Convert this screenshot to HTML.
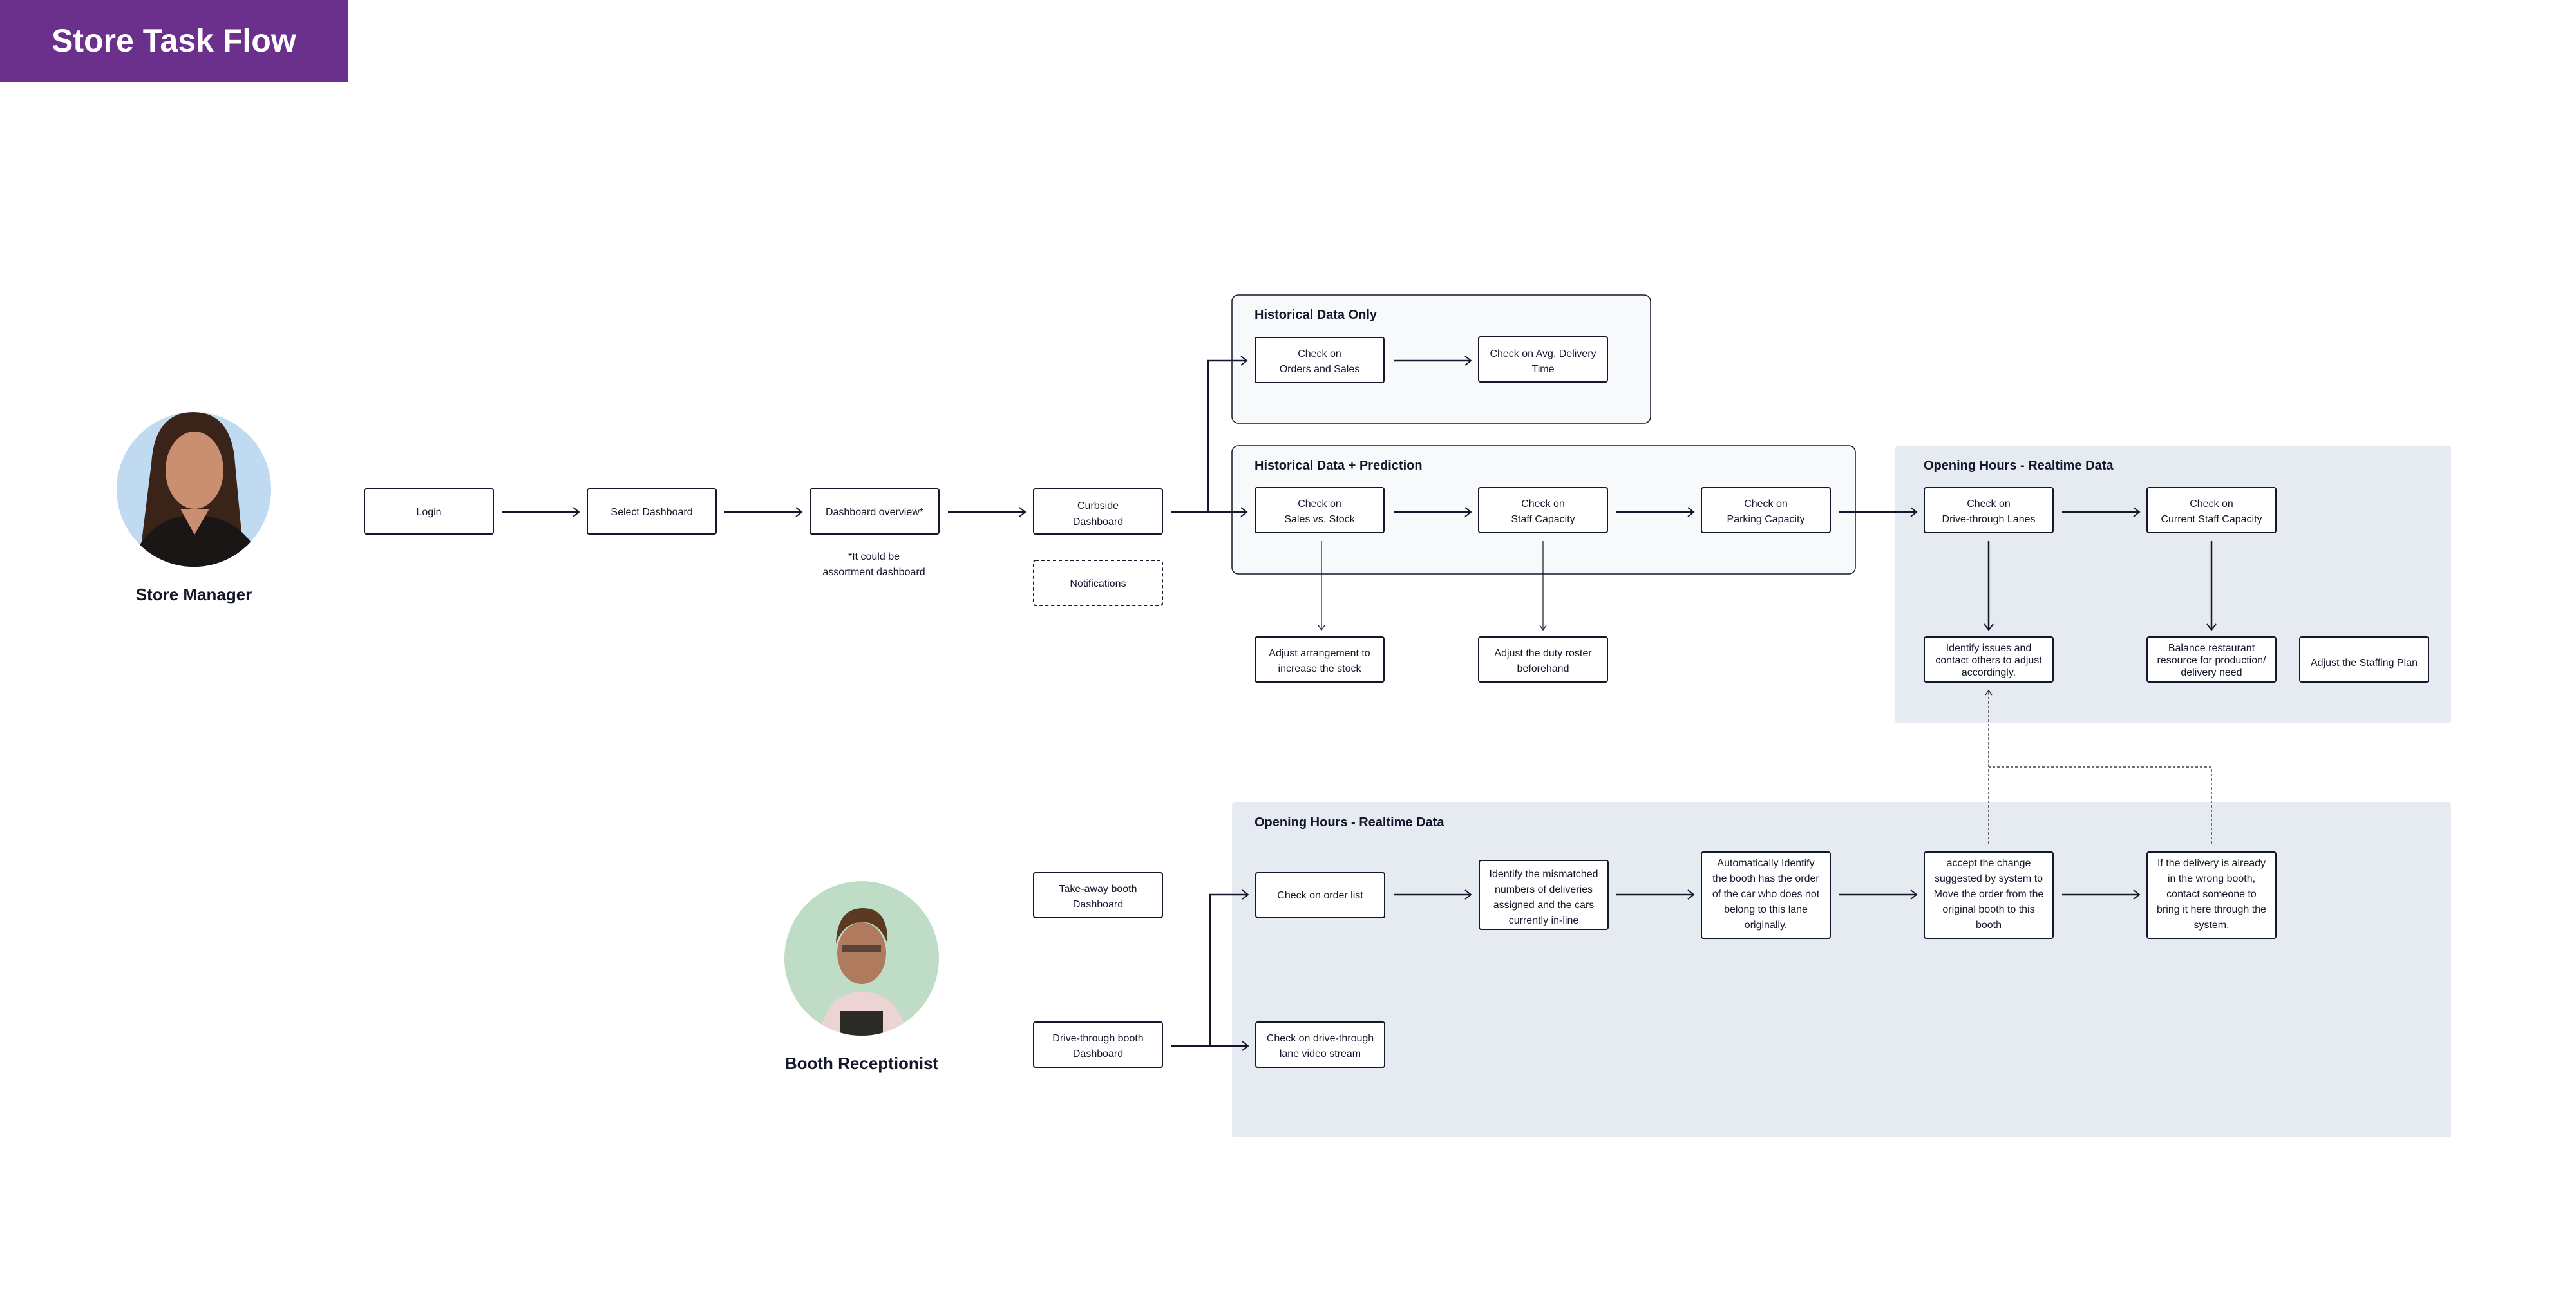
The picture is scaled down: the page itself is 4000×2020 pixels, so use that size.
<!DOCTYPE html>
<html><head><meta charset="utf-8"><style>
html,body{margin:0;padding:0;background:#fff}
svg{display:block}
text{font-family:"Liberation Sans",sans-serif}
.b{fill:#fff;stroke:#14172a;stroke-width:2}
.t{font-size:16px;fill:#14172a;text-anchor:middle}
.g{font-size:20px;font-weight:bold;fill:#14172a}
.a{stroke:#14172a;stroke-width:2.5;fill:none}
.th{stroke:#14172a;stroke-width:1.2;fill:none}
.d{stroke:#14172a;stroke-width:1.2;fill:none;stroke-dasharray:4 3}
</style></head><body>
<svg width="4000" height="2020" viewBox="0 0 4000 2020" xmlns="http://www.w3.org/2000/svg">
<defs>
<marker id="ar" markerWidth="12" markerHeight="16" refX="10" refY="8" orient="auto" markerUnits="userSpaceOnUse">
<path d="M1,1 L10,8 L1,15" fill="none" stroke="#14172a" stroke-width="2"/></marker>
<marker id="ar2" markerWidth="10" markerHeight="12" refX="8" refY="6" orient="auto" markerUnits="userSpaceOnUse">
<path d="M1,1 L8,6 L1,11" fill="none" stroke="#14172a" stroke-width="1.3"/></marker>
<clipPath id="c1"><circle cx="301" cy="760" r="120"/></clipPath>
<clipPath id="c2"><circle cx="1338" cy="1488" r="120"/></clipPath>
</defs>
<!-- title -->
<rect x="0" y="0" width="540" height="128" fill="#6b2f8c"/>
<text x="80" y="80" font-size="50" font-weight="bold" fill="#fff">Store Task Flow</text>

<!-- avatars -->
<circle cx="301" cy="760" r="120" fill="#bfdaf1"/>
<g clip-path="url(#c1)">
<path d="M235,720 Q240,640 300,640 Q360,640 365,720 L380,880 L215,880 Z" fill="#3a241a"/>
<ellipse cx="302" cy="730" rx="45" ry="60" fill="#c98f70"/>
<path d="M200,880 Q230,800 302,800 Q380,800 410,880 Z" fill="#1b1616"/>
<path d="M280,790 L302,830 L325,790 Z" fill="#c98f70"/>
</g>
<circle cx="1338" cy="1488" r="120" fill="#bfdcc6"/>
<g clip-path="url(#c2)">
<path d="M1270,1620 Q1280,1540 1338,1540 Q1400,1540 1410,1620 Z" fill="#ecd3d4"/>
<rect x="1305" y="1570" width="66" height="50" fill="#2b2a26"/>
<ellipse cx="1338" cy="1480" rx="38" ry="48" fill="#b07a5e"/>
<path d="M1298,1465 Q1300,1410 1340,1410 Q1380,1410 1378,1465 Q1365,1430 1338,1432 Q1310,1432 1298,1465 Z" fill="#5a3a22"/>
<rect x="1308" y="1468" width="60" height="10" fill="#222" opacity=".6"/>
</g>
<text x="301" y="932" font-size="26" font-weight="bold" fill="#14172a" text-anchor="middle">Store Manager</text>
<text x="1338" y="1660" font-size="26" font-weight="bold" fill="#14172a" text-anchor="middle">Booth Receptionist</text>

<!-- groups -->
<rect x="1913" y="458" width="650" height="199" rx="10" fill="#f8f9fb" stroke="#14172a" stroke-width="1.5"/>
<rect x="1913" y="692" width="968" height="199" rx="10" fill="#f8f9fb" stroke="#14172a" stroke-width="1.5"/>
<rect x="2943" y="692" width="863" height="431" rx="4" fill="#e6eaf1"/>
<rect x="1913" y="1246" width="1893" height="520" rx="4" fill="#e6eaf1"/>
<text class="g" x="1948" y="495">Historical Data Only</text>
<text class="g" x="1948" y="729">Historical Data + Prediction</text>
<text class="g" x="2987" y="729">Opening Hours - Realtime Data</text>
<text class="g" x="1948" y="1283">Opening Hours - Realtime Data</text>

<!-- top flow boxes -->
<rect class="b" x="566" y="759" width="200" height="70" rx="3"/><text class="t" x="666" y="800">Login</text>
<rect class="b" x="912" y="759" width="200" height="70" rx="3"/><text class="t" x="1012" y="800">Select Dashboard</text>
<rect class="b" x="1258" y="759" width="200" height="70" rx="3"/><text class="t" x="1358" y="800">Dashboard overview*</text>
<rect class="b" x="1605" y="759" width="200" height="70" rx="3"/><text class="t" x="1705" y="790">Curbside</text><text class="t" x="1705" y="815">Dashboard</text>
<text class="t" x="1357" y="869">*It could be</text><text class="t" x="1357" y="893">assortment dashboard</text>
<rect x="1605" y="870" width="200" height="70" rx="3" fill="#fff" stroke="#14172a" stroke-width="2" stroke-dasharray="5 4"/><text class="t" x="1705" y="911">Notifications</text>
<line class="a" x1="779" y1="795" x2="899" y2="795" marker-end="url(#ar)"/>
<line class="a" x1="1125" y1="795" x2="1245" y2="795" marker-end="url(#ar)"/>
<line class="a" x1="1472" y1="795" x2="1592" y2="795" marker-end="url(#ar)"/>
<path class="a" d="M1818,795 H1876 V560 H1936" marker-end="url(#ar)"/>
<line class="a" x1="1876" y1="795" x2="1936" y2="795" marker-end="url(#ar)"/>

<!-- historical only -->
<rect class="b" x="1949" y="524" width="200" height="70" rx="3"/><text class="t" x="2049" y="554">Check on</text><text class="t" x="2049" y="578">Orders and Sales</text>
<rect class="b" x="2296" y="523" width="200" height="70" rx="3"/><text class="t" x="2396" y="554">Check on Avg. Delivery</text><text class="t" x="2396" y="578">Time</text>
<line class="a" x1="2164" y1="560" x2="2284" y2="560" marker-end="url(#ar)"/>

<!-- prediction row -->
<rect class="b" x="1949" y="757" width="200" height="70" rx="3"/><text class="t" x="2049" y="787">Check on</text><text class="t" x="2049" y="811">Sales vs. Stock</text>
<rect class="b" x="2296" y="757" width="200" height="70" rx="3"/><text class="t" x="2396" y="787">Check on</text><text class="t" x="2396" y="811">Staff Capacity</text>
<rect class="b" x="2642" y="757" width="200" height="70" rx="3"/><text class="t" x="2742" y="787">Check on</text><text class="t" x="2742" y="811">Parking Capacity</text>
<rect class="b" x="2988" y="757" width="200" height="70" rx="3"/><text class="t" x="3088" y="787">Check on</text><text class="t" x="3088" y="811">Drive-through Lanes</text>
<rect class="b" x="3334" y="757" width="200" height="70" rx="3"/><text class="t" x="3434" y="787">Check on</text><text class="t" x="3434" y="811">Current Staff Capacity</text>
<line class="a" x1="2164" y1="795" x2="2284" y2="795" marker-end="url(#ar)"/>
<line class="a" x1="2510" y1="795" x2="2630" y2="795" marker-end="url(#ar)"/>
<line class="a" x1="2856" y1="795" x2="2976" y2="795" marker-end="url(#ar)"/>
<line class="a" x1="3202" y1="795" x2="3322" y2="795" marker-end="url(#ar)"/>

<!-- lower boxes -->
<rect class="b" x="1949" y="989" width="200" height="70" rx="3"/><text class="t" x="2049" y="1019">Adjust arrangement to</text><text class="t" x="2049" y="1043">increase the stock</text>
<rect class="b" x="2296" y="989" width="200" height="70" rx="3"/><text class="t" x="2396" y="1019">Adjust the duty roster</text><text class="t" x="2396" y="1043">beforehand</text>
<rect class="b" x="2988" y="989" width="200" height="70" rx="3"/><text class="t" x="3088" y="1011">Identify issues and</text><text class="t" x="3088" y="1030">contact others to adjust</text><text class="t" x="3088" y="1049">accordingly.</text>
<rect class="b" x="3334" y="989" width="200" height="70" rx="3"/><text class="t" x="3434" y="1011">Balance restaurant</text><text class="t" x="3434" y="1030">resource for production/</text><text class="t" x="3434" y="1049">delivery need</text>
<rect class="b" x="3571" y="989" width="200" height="70" rx="3"/><text class="t" x="3671" y="1034">Adjust the Staffing Plan</text>
<line class="th" x1="2052" y1="840" x2="2052" y2="978" marker-end="url(#ar2)"/>
<line class="th" x1="2396" y1="840" x2="2396" y2="978" marker-end="url(#ar2)"/>
<line class="a" x1="3088" y1="840" x2="3088" y2="978" stroke-width="1.8" marker-end="url(#ar)"/>
<line class="a" x1="3434" y1="840" x2="3434" y2="978" marker-end="url(#ar)"/>

<!-- booth flow -->
<rect class="b" x="1605" y="1355" width="200" height="70" rx="3"/><text class="t" x="1705" y="1385">Take-away booth</text><text class="t" x="1705" y="1409">Dashboard</text>
<rect class="b" x="1605" y="1587" width="200" height="70" rx="3"/><text class="t" x="1705" y="1617">Drive-through booth</text><text class="t" x="1705" y="1641">Dashboard</text>
<rect class="b" x="1950" y="1355" width="200" height="70" rx="3"/><text class="t" x="2050" y="1395">Check on order list</text>
<rect class="b" x="1950" y="1587" width="200" height="70" rx="3"/><text class="t" x="2050" y="1617">Check on drive-through</text><text class="t" x="2050" y="1641">lane video stream</text>
<rect class="b" x="2297" y="1336" width="200" height="107" rx="3"/>
<text class="t" x="2397" y="1362">Identify the mismatched</text><text class="t" x="2397" y="1386">numbers of deliveries</text><text class="t" x="2397" y="1410">assigned and the cars</text><text class="t" x="2397" y="1434">currently in-line</text>
<rect class="b" x="2642" y="1323" width="200" height="134" rx="3"/>
<text class="t" x="2742" y="1345">Automatically Identify</text><text class="t" x="2742" y="1369">the booth has the order</text><text class="t" x="2742" y="1393">of the car who does not</text><text class="t" x="2742" y="1417">belong to this lane</text><text class="t" x="2742" y="1441">originally.</text>
<rect class="b" x="2988" y="1323" width="200" height="134" rx="3"/>
<text class="t" x="3088" y="1345">accept the change</text><text class="t" x="3088" y="1369">suggested by system to</text><text class="t" x="3088" y="1393">Move the order from the</text><text class="t" x="3088" y="1417">original booth to this</text><text class="t" x="3088" y="1441">booth</text>
<rect class="b" x="3334" y="1323" width="200" height="134" rx="3"/>
<text class="t" x="3434" y="1345">If the delivery is already</text><text class="t" x="3434" y="1369">in the wrong booth,</text><text class="t" x="3434" y="1393">contact someone to</text><text class="t" x="3434" y="1417">bring it here through the</text><text class="t" x="3434" y="1441">system.</text>
<path class="a" d="M1818,1624 H1879 V1389 H1938" marker-end="url(#ar)"/>
<line class="a" x1="1879" y1="1624" x2="1938" y2="1624" marker-end="url(#ar)"/>
<line class="a" x1="2164" y1="1389" x2="2284" y2="1389" marker-end="url(#ar)"/>
<line class="a" x1="2510" y1="1389" x2="2630" y2="1389" marker-end="url(#ar)"/>
<line class="a" x1="2856" y1="1389" x2="2976" y2="1389" marker-end="url(#ar)"/>
<line class="a" x1="3202" y1="1389" x2="3322" y2="1389" marker-end="url(#ar)"/>
<!-- dashed feedback -->
<line class="d" x1="3088" y1="1310" x2="3088" y2="1072" marker-end="url(#ar2)"/>
<path class="d" d="M3434,1310 V1191 H3088"/>
</svg>
</body></html>
